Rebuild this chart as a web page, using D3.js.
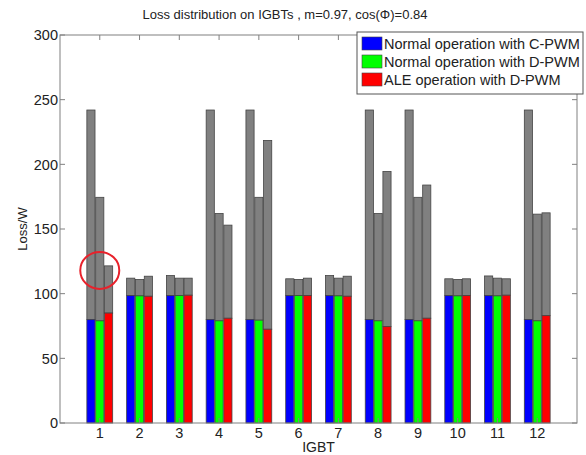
<!DOCTYPE html>
<html>
<head>
<meta charset="utf-8">
<script src="https://cdn.jsdelivr.net/npm/d3@7"></script>
<style>
  body { margin: 0; background: #fff; }
  text { font-family: "Liberation Sans", Arial, sans-serif; fill: #222; }
</style>
</head>
<body>
<svg id="chart"></svg>
<script>
// IGBT index 1..12
const igbts = [1, 2, 3, 4, 5, 6, 7, 8, 9, 10, 11, 12];
const seriesNames = ["Normal operation with C-PWM", "Normal operation with D-PWM", "ALE operation with D-PWM"];
const seriesColors = ["#0000ff", "#00ff00", "#ff0000"];

// coloured (lower) part of each bar
const baseCPWM  = [80, 98.5, 98.5, 80, 80, 98.5, 98.5, 80, 80, 98.5, 98.5, 80];
const baseDPWM  = [79, 98.3, 98.5, 79, 79.5, 98.5, 98.3, 79, 79, 98.3, 98.3, 79];
const baseALE   = [85, 98, 98.8, 81, 72.5, 98.5, 98, 74.5, 81, 98.5, 98.8, 83];
// total height (top of gray part)
const totalCPWM = [242, 112, 114, 242, 242, 111.5, 114, 242, 242, 111.5, 113.7, 242];
const totalDPWM = [174.5, 111, 112, 162, 174.5, 111, 112, 162, 174.5, 111, 112, 161.5];
const totalALE  = [121.5, 113.5, 112, 153, 218.5, 112, 113.5, 194.5, 184, 111.5, 111.5, 162.5];

const yTicks = [0, 50, 100, 150, 200, 250, 300];

const width = 586, height = 455;
const margin = { left: 60, right: 9, top: 35, bottom: 32 };

const svg = d3.select("#chart").attr("width", width).attr("height", height);

const x = d3.scaleLinear().domain([0, 13]).range([margin.left, width - margin.right]);
const y = d3.scaleLinear().domain([0, 300]).range([height - margin.bottom, margin.top]);

const bases = [baseCPWM, baseDPWM, baseALE];
const totals = [totalCPWM, totalDPWM, totalALE];
const offset = 0.222, barW = 0.205;

const rows = [];
igbts.forEach((g, i) => {
  for (let s = 0; s < 3; s++) {
    rows.push({ g: g, s: s, base: bases[s][i], total: totals[s][i] });
  }
});

const bars = svg.append("g").attr("id", "bars");
const bx = d => x(d.g + (d.s - 1) * offset - barW / 2);
const bw = x(barW) - x(0);

// gray upper part
bars.selectAll("rect.top").data(rows).join("rect")
  .attr("class", "top")
  .attr("x", bx).attr("width", bw)
  .attr("y", d => y(d.total))
  .attr("height", d => y(d.base) - y(d.total))
  .attr("fill", "#808080").attr("stroke", "#444").attr("stroke-width", 0.8);

// coloured lower part
bars.selectAll("rect.base").data(rows).join("rect")
  .attr("class", "base")
  .attr("x", bx).attr("width", bw)
  .attr("y", d => y(d.base))
  .attr("height", d => y(0) - y(d.base))
  .attr("fill", d => seriesColors[d.s]).attr("stroke", "#444").attr("stroke-width", 0.8);

// axes box
const axisColor = "#808080";
const x0 = x(0), x1 = x(13), y0 = y(0), y1 = y(300);
svg.append("rect").attr("x", x0).attr("y", y1).attr("width", x1 - x0).attr("height", y0 - y1)
  .attr("fill", "none").attr("stroke", axisColor).attr("stroke-width", 1);

const tickLen = 5;
const ticks = svg.append("g").attr("stroke", axisColor).attr("stroke-width", 1);
yTicks.forEach(t => {
  ticks.append("line").attr("x1", x0).attr("x2", x0 + tickLen).attr("y1", y(t)).attr("y2", y(t));
  ticks.append("line").attr("x1", x1).attr("x2", x1 - tickLen).attr("y1", y(t)).attr("y2", y(t));
});
igbts.forEach(g => {
  ticks.append("line").attr("x1", x(g)).attr("x2", x(g)).attr("y1", y0).attr("y2", y0 - tickLen);
  ticks.append("line").attr("x1", x(g)).attr("x2", x(g)).attr("y1", y1).attr("y2", y1 + tickLen);
});

svg.append("g").selectAll("text").data(yTicks).join("text")
  .attr("x", x0 - 2).attr("y", d => y(d)).attr("dy", "0.36em")
  .attr("text-anchor", "end").attr("font-size", 14.5).text(d => d);

svg.append("g").selectAll("text").data(igbts).join("text")
  .attr("x", d => x(d)).attr("y", y0 + 15)
  .attr("text-anchor", "middle").attr("font-size", 14.5).text(d => d);

// labels
svg.append("text").attr("x", 285).attr("y", 19).attr("text-anchor", "middle")
  .attr("font-size", 13).text("Loss distribution on IGBTs , m=0.97, cos(\u03A6)=0.84");
svg.append("text").attr("x", x(6.5)).attr("y", 452).attr("text-anchor", "middle")
  .attr("font-size", 14).text("IGBT");
svg.append("text").attr("transform", `translate(27,${(y0 + y1) / 2}) rotate(-90)`)
  .attr("text-anchor", "middle").attr("font-size", 13).text("Loss/W");

// legend
const legend = svg.append("g").attr("transform", "translate(357,32)");
legend.append("rect").attr("width", 226).attr("height", 62)
  .attr("fill", "#fff").attr("stroke", "#555").attr("stroke-width", 1);
seriesNames.forEach((n, i) => {
  legend.append("rect").attr("x", 5).attr("y", 5 + i * 18).attr("width", 20).attr("height", 13)
    .attr("fill", seriesColors[i]).attr("stroke", "#444").attr("stroke-width", 0.6);
  legend.append("text").attr("x", 27).attr("y", 11.5 + i * 18).attr("dy", "0.36em")
    .attr("font-size", 14.5).text(n);
});

// red highlight circle on IGBT 1
svg.append("ellipse").attr("cx", x(1)).attr("cy", y(118)).attr("rx", 19.5).attr("ry", 18.5)
  .attr("fill", "none").attr("stroke", "#e8212b").attr("stroke-width", 2);
</script>
</body>
</html>
